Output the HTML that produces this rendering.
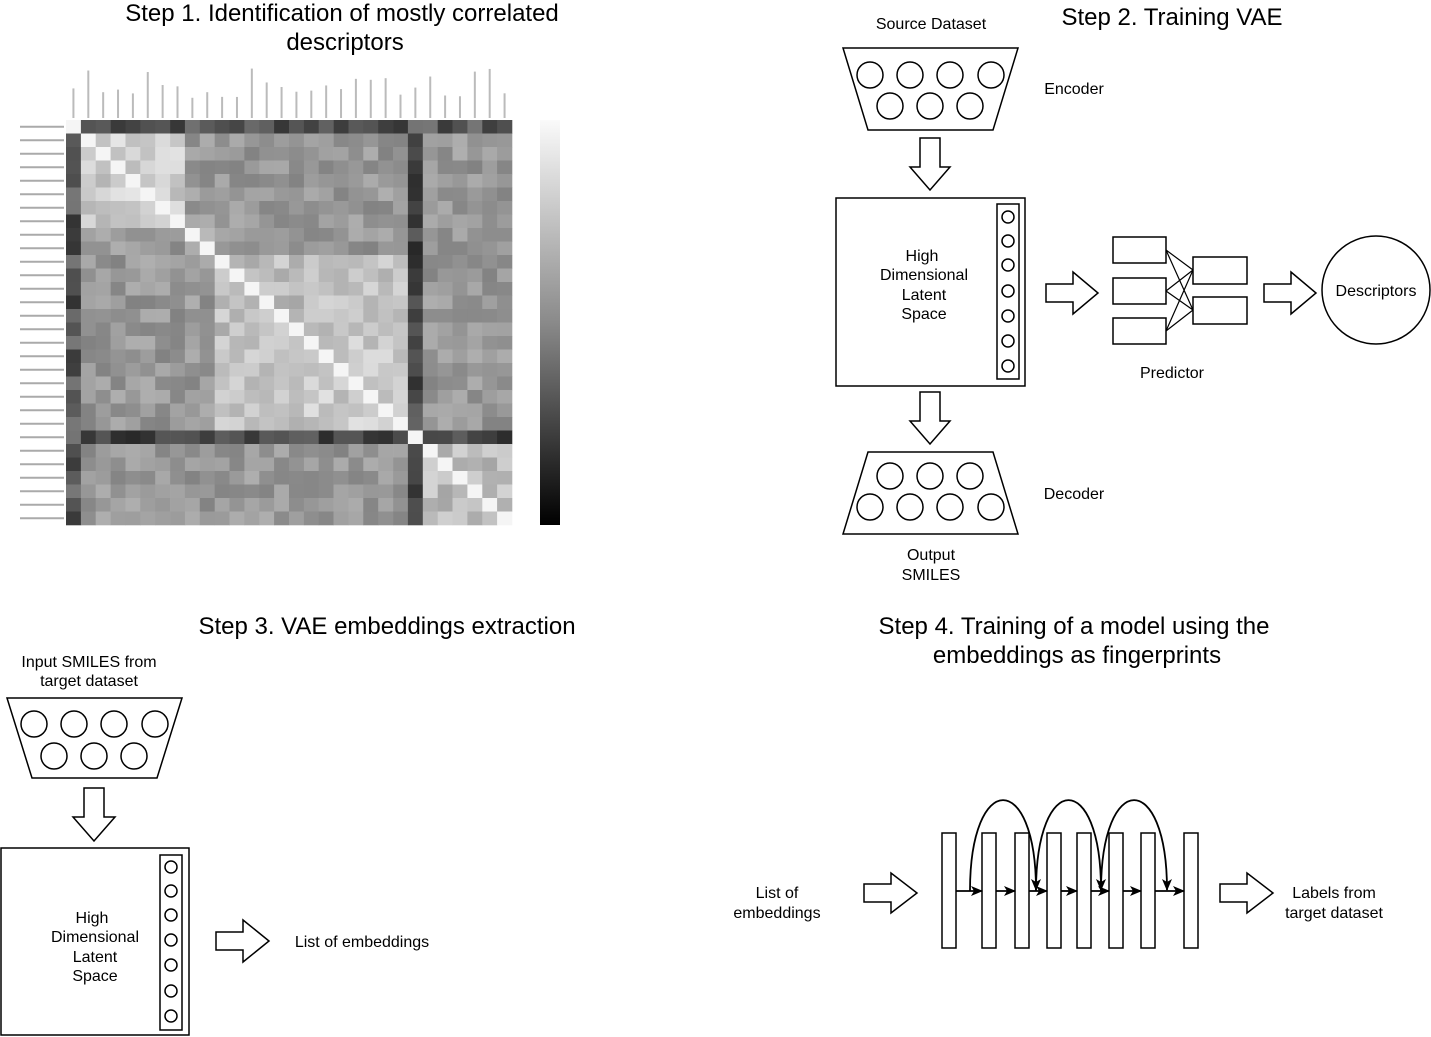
<!DOCTYPE html>
<html><head><meta charset="utf-8"><style>
html,body{margin:0;padding:0;background:#fff;}
svg{display:block;font-family:"Liberation Sans",sans-serif;}
</style></head><body>
<svg id="s" width="1431" height="1037" viewBox="0 0 1431 1037" xmlns="http://www.w3.org/2000/svg">
<defs>
<linearGradient id="cb" x1="0" y1="0" x2="0" y2="1"><stop offset="0" stop-color="#fafafa"/><stop offset="0.5" stop-color="#8a8a8a"/><stop offset="1" stop-color="#000"/></linearGradient>
<marker id="ah" markerWidth="12" markerHeight="10" refX="11" refY="5" orient="auto" markerUnits="userSpaceOnUse"><path d="M0,0 L12,5 L0,10 L3,5 Z" fill="#000"/></marker>
</defs>
<g font-size="24" text-anchor="middle" fill="#000">
<text x="342" y="21">Step 1. Identification of mostly correlated</text>
<text x="345" y="50">descriptors</text>
<text x="1172" y="25">Step 2. Training VAE</text>
<text x="387" y="634">Step 3. VAE embeddings extraction</text>
<text x="1074" y="634">Step 4. Training of a model using the</text>
<text x="1077" y="663">embeddings as fingerprints</text>
</g>
<g id="heat"></g>
<rect x="540" y="120" width="20" height="405" fill="url(#cb)"/>
<g fill="none" stroke="#000" stroke-width="1.5">
<polygon points="843,48 1018,48 993,130 868,130"/>
<circle cx="870" cy="75" r="13"/><circle cx="910" cy="75" r="13"/><circle cx="950" cy="75" r="13"/><circle cx="991" cy="75" r="13"/>
<circle cx="890" cy="106" r="13"/><circle cx="930" cy="106" r="13"/><circle cx="970" cy="106" r="13"/>
<polygon points="920,138 940,138 940,167 950,167 930,190 910,167 920,167"/>
<rect x="836" y="198" width="189" height="188"/>
<rect x="997" y="204" width="22" height="175"/>
<circle cx="1008" cy="217" r="6"/><circle cx="1008" cy="241" r="6"/><circle cx="1008" cy="265" r="6"/><circle cx="1008" cy="291" r="6"/><circle cx="1008" cy="316" r="6"/><circle cx="1008" cy="341" r="6"/><circle cx="1008" cy="366" r="6"/>
<polygon points="1046,284 1073,284 1073,272 1098,293 1073,314 1073,302 1046,302"/>
<rect x="1113" y="237" width="53" height="26"/><rect x="1113" y="278" width="53" height="26"/><rect x="1113" y="318" width="53" height="26"/>
<rect x="1193" y="257" width="54" height="27"/><rect x="1193" y="297" width="54" height="27"/>
<path d="M1166,250 L1193,270 M1166,250 L1193,310 M1166,291 L1193,270 M1166,291 L1193,310 M1166,331 L1193,270 M1166,331 L1193,310" stroke-width="1.2"/>
<polygon points="1264,284 1291,284 1291,272 1316,293 1291,314 1291,302 1264,302"/>
<circle cx="1376" cy="290" r="54"/>
<polygon points="920,392 940,392 940,421 950,421 930,444 910,421 920,421"/>
<polygon points="868,452 993,452 1018,534 843,534"/>
<circle cx="890" cy="476" r="13"/><circle cx="930" cy="476" r="13"/><circle cx="970" cy="476" r="13"/>
<circle cx="870" cy="507" r="13"/><circle cx="910" cy="507" r="13"/><circle cx="950" cy="507" r="13"/><circle cx="991" cy="507" r="13"/>
<polygon points="7,698 182,698 157,778 32,778"/>
<circle cx="34" cy="724" r="13"/><circle cx="74" cy="724" r="13"/><circle cx="114" cy="724" r="13"/><circle cx="155" cy="724" r="13"/>
<circle cx="54" cy="756" r="13"/><circle cx="94" cy="756" r="13"/><circle cx="134" cy="756" r="13"/>
<polygon points="84,788 104,788 104,817 115,817 94,841 73,817 84,817"/>
<rect x="1" y="848" width="188" height="187"/>
<rect x="160" y="855" width="22" height="175"/>
<circle cx="171" cy="867" r="6"/><circle cx="171" cy="891" r="6"/><circle cx="171" cy="915" r="6"/><circle cx="171" cy="940" r="6"/><circle cx="171" cy="965" r="6"/><circle cx="171" cy="991" r="6"/><circle cx="171" cy="1016" r="6"/>
<polygon points="216,932 243,932 243,920 269,941 243,962 243,950 216,950"/>
<polygon points="864,884 891,884 891,873 917,893 891,913 891,902 864,902"/>
<polygon points="1220,884 1247,884 1247,873 1273,893 1247,913 1247,902 1220,902"/>
<rect x="942" y="833" width="14" height="115"/><rect x="982" y="833" width="14" height="115"/><rect x="1015" y="833" width="14" height="115"/><rect x="1047" y="833" width="14" height="115"/><rect x="1077" y="833" width="14" height="115"/><rect x="1109" y="833" width="14" height="115"/><rect x="1141" y="833" width="14" height="115"/><rect x="1184" y="833" width="14" height="115"/>
<g stroke-width="1.8" marker-end="url(#ah)">
<line x1="956" y1="891" x2="982" y2="891"/><line x1="996" y1="891" x2="1015" y2="891"/><line x1="1029" y1="891" x2="1047" y2="891"/><line x1="1061" y1="891" x2="1077" y2="891"/><line x1="1091" y1="891" x2="1109" y2="891"/><line x1="1123" y1="891" x2="1141" y2="891"/><line x1="1155" y1="891" x2="1184" y2="891"/>
<path d="M970,891 C970,770 1036,770 1036,890"/>
<path d="M1036,891 C1036,770 1101,770 1101,890"/>
<path d="M1101,891 C1101,770 1167,770 1167,890"/>
</g>
</g>
<g font-size="16" text-anchor="middle" fill="#000">
<text x="931" y="29">Source Dataset</text>
<text x="1074" y="94">Encoder</text>
<text x="922" y="261">High</text><text x="924" y="280">Dimensional</text><text x="924" y="300">Latent</text><text x="924" y="319">Space</text>
<text x="1172" y="378">Predictor</text>
<text x="1376" y="296">Descriptors</text>
<text x="1074" y="499">Decoder</text>
<text x="931" y="560">Output</text><text x="931" y="580">SMILES</text>
<text x="89" y="667">Input SMILES from</text><text x="89" y="686">target dataset</text>
<text x="92" y="923">High</text><text x="95" y="942">Dimensional</text><text x="95" y="962">Latent</text><text x="95" y="981">Space</text>
<text x="362" y="947">List of embeddings</text>
<text x="777" y="898">List of</text><text x="777" y="918">embeddings</text>
<text x="1334" y="898">Labels from</text><text x="1334" y="918">target dataset</text>
</g>
</svg>
<script>
(function(){
var g=document.getElementById('heat');
var N=30,x0=66,y0=120,w=446/N,h=405/N;
var seed=7;function r(){seed=(seed*9301+49297)%233280;return seed/233280;}
function grp(i){if(i>=1&&i<=7)return 1;if(i>=8&&i<=9)return 2;if(i>=10&&i<=15)return 3;if(i>=16&&i<=22)return 4;return 5;}
var s='';
for(var i=0;i<N;i++)for(var j=0;j<N;j++){
 var v;
 if(i==j)v=245;
 else if(i==0||j==0)v=50+r()*70;
 else if(i==23||j==23)v=40+r()*60;
 else{var a=grp(i),b=grp(j);v=130+r()*45;
  if(a==b&&(a==1||a==4))v=180+r()*50;
  else if(a==b)v=165+r()*50;
  else if((a==3&&b==4)||(a==4&&b==3))v=175+r()*40;}
 v=Math.round(Math.max(0,Math.min(255,v)));
 s+='<rect x="'+(x0+j*w).toFixed(1)+'" y="'+(y0+i*h).toFixed(1)+'" width="'+(w+0.3).toFixed(1)+'" height="'+(h+0.3).toFixed(1)+'" fill="rgb('+v+','+v+','+v+')"/>';
}
for(var i=0;i<N;i++){s+='<line x1="20" x2="64" y1="'+(y0+i*h+h/2)+'" y2="'+(y0+i*h+h/2)+'" stroke="#aaa" stroke-width="2"/>';
 var L=20+r()*30;s+='<line x1="'+(x0+i*w+w/2)+'" x2="'+(x0+i*w+w/2)+'" y1="118" y2="'+(118-L)+'" stroke="#bbb" stroke-width="2"/>';}
g.innerHTML=s;
})();
</script>
</body></html>
